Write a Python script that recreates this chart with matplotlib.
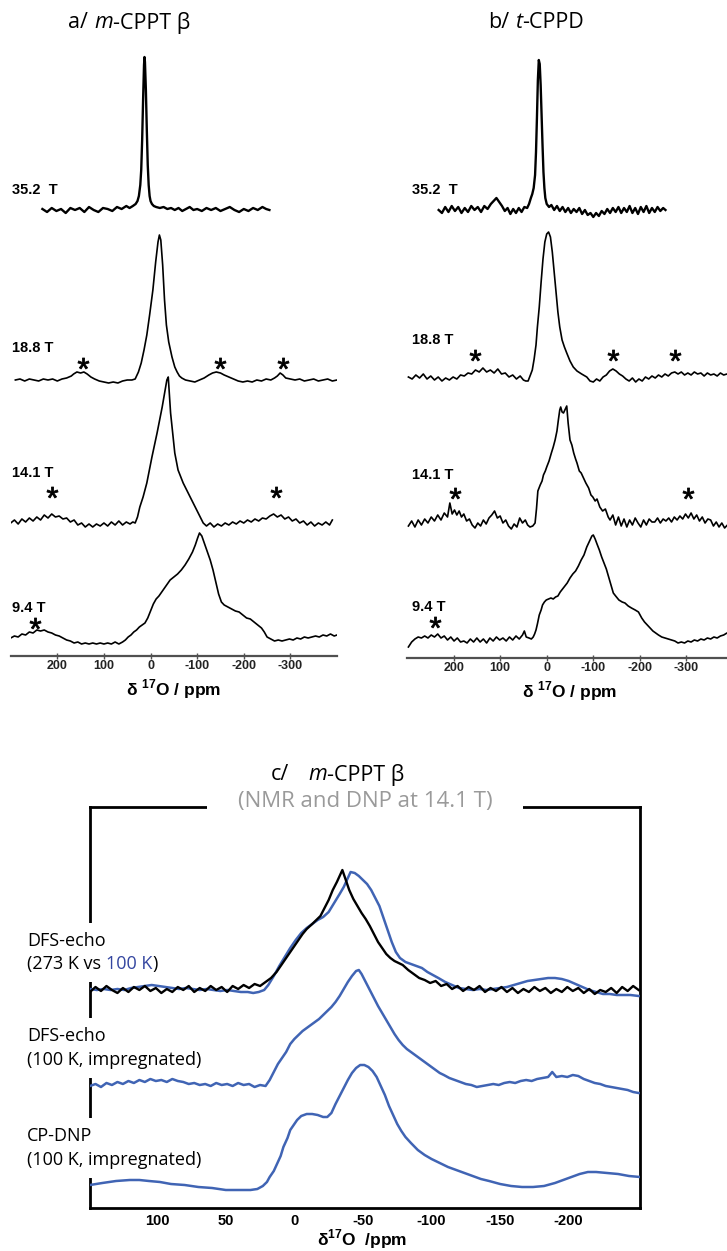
import matplotlib
matplotlib.use("Agg")
import matplotlib.pyplot as plt

# ---------------- data ----------------
# ppm positions and heights above each trace's baseline (picture units)

# a/ m-CPPT beta
a35_ppm = [232, 222, 212, 202, 192, 182, 172, 162, 152, 142, 132, 122, 112, 102, 92, 82, 72, 62, 52, 45,
           38, 32, 28, 25, 22, 20, 18, 16, 14, 13, 12, 10, 8, 6, 4, 2, 0, -3, -7, -12,
           -20, -28, -36, -44, -52, -60, -68, -76, -84, -92, -100, -110, -120, -130, -140, -150, -160, -170, -180, -190,
           -200, -210, -220, -230, -240, -248, -255]
a35_int = [1, -2, 2, -1, 1, -3, 2, 0, 2, -2, 3, 0, -2, 2, 1, -1, 3, 1, 4, 2,
           4, 6, 9, 14, 25, 40, 70, 110, 145, 153, 148, 120, 80, 45, 25, 14, 9, 6, 4, 3,
           2, 3, 1, 2, 0, 2, -1, 1, 3, 0, 1, -1, 2, 0, 2, -1, 1, 3, 0, -2,
           1, -1, 2, 0, 3, 1, 0]

a19_ppm = [290, 280, 270, 260, 250, 240, 230, 220, 210, 200, 190, 180, 170, 165, 158, 150, 143, 136, 128, 120,
           110, 100, 90, 80, 70, 60, 50, 40, 33, 26, 20, 14, 8, 2, -5, -11, -16, -19, -22, -26,
           -30, -34, -39, -46, -52, -57, -62, -67, -75, -85, -95, -105, -115, -125, -133, -141, -150, -158, -168, -178,
           -188, -198, -208, -218, -228, -238, -248, -258, -266, -272, -278, -284, -290, -300, -310, -320, -330, -340,
           -350, -360, -370, -380, -390, -400]
a19_int = [0, 1, -1, 1, 0, -1, 1, 0, 1, -1, 1, 2, 4, 6, 8, 7, 8, 6, 3, 1,
           -1, -2, -3, -2, -3, -1, 0, 0, 1, 8, 17, 30, 45, 65, 90, 118, 138, 145, 140, 115,
           80, 55, 38, 23, 13, 8, 4, 2, 0, -1, -2, 0, 2, 5, 7, 8, 7, 5, 3, 1,
           -1, -2, -1, -2, 0, -1, 1, 0, 2, 4, 7, 5, 2, 1, 0, 1, -1, 0,
           1, -1, 0, 1, -1, 0]

a14_ppm = [300, 292, 284, 276, 268, 260, 252, 244, 236, 228, 220, 212, 204, 196, 188, 180, 172, 164, 156, 148,
           140, 132, 124, 116, 108, 100, 92, 84, 76, 68, 60, 52, 44, 38, 33, 28, 23, 16, 8, -3,
           -14, -25, -35, -38, -43, -52, -59, -70, -85, -99, -113, -120, -128, -136, -144, -152, -160, -168, -176, -184,
           -192, -200, -208, -216, -224, -232, -240, -248, -256, -264, -272, -280, -288, -296, -304, -312, -320, -328,
           -336, -344, -352, -360, -368, -376, -384, -390]
a14_int = [0, 3, -1, 4, 1, 5, 2, 6, 3, 8, 5, 9, 6, 7, 4, 5, 1, 3, -2, 0,
           -4, -1, -4, -1, -3, 0, -3, 1, -2, 2, -2, 1, -1, 1, 0, 6, 16, 26, 40, 66,
           90, 116, 143, 146, 110, 70, 53, 40, 26, 13, 0, -3, 0, -4, -1, -3, 0, -2, 1, -1,
           2, 0, 3, 1, 4, 2, 5, 4, 7, 9, 6, 8, 4, 6, 2, 4, 0, 2,
           -2, 1, -3, 0, -2, 1, -2, 3]

a9_ppm = [300, 292, 284, 276, 268, 260, 252, 244, 236, 228, 220, 212, 204, 196, 188, 180, 172, 164, 156, 148,
          140, 132, 124, 116, 108, 100, 92, 84, 76, 68, 60, 54, 48, 42, 36, 30, 24, 18, 12, 6,
          0, -6, -12, -18, -24, -30, -36, -42, -50, -58, -66, -74, -82, -90, -96, -101, -105, -110, -116, -122,
          -128, -134, -140, -146, -152, -158, -166, -174, -182, -190, -198, -206, -214, -222, -230, -238, -244, -250,
          -258, -266, -274, -282, -290, -298, -306, -314, -322, -330, -338, -346, -354, -362, -370, -378, -386, -394, -400]
a9_int = [2, 4, 3, 6, 5, 8, 7, 10, 9, 10, 8, 7, 5, 4, 2, 0, -1, -3, -2, -4,
          -3, -4, -3, -4, -3, -4, -3, -4, -2, -4, -2, 0, 3, 5, 8, 10, 13, 15, 17, 22,
          29, 36, 41, 44, 48, 52, 56, 60, 63, 66, 70, 75, 81, 88, 95, 102, 107, 104, 96, 88,
          80, 70, 58, 46, 38, 35, 33, 31, 29, 28, 25, 22, 21, 18, 15, 12, 8, 3,
          1, -1, 0, -1, 0, 1, 0, 2, 1, 3, 2, 3, 4, 3, 5, 4, 6, 4, 5]

# b/ t-CPPD
b35_ppm = [232, 225, 218, 211, 204, 197, 190, 183, 176, 169, 162, 155, 148, 141, 134, 127, 120, 114, 108, 102,
           96, 90, 84, 78, 72, 66, 60, 54, 48, 42, 38, 34, 31, 28, 25, 23, 21, 19, 17, 15,
           13, 11, 9, 7, 5, 3, 0, -5, -10, -16, -22, -28, -34, -40, -46, -52, -58, -64, -70, -76,
           -82, -88, -94, -100, -106, -112, -118, -124, -130, -136, -142, -148, -154, -160, -166, -172, -178, -184,
           -190, -196, -202, -208, -214, -220, -226, -232, -238, -244, -250, -255]
b35_int = [0, -3, 3, -2, 4, -1, 3, -3, 2, -2, 4, 0, 3, -2, 4, 1, 6, 9, 12, 8,
           4, -1, 2, -4, 1, -3, 2, -2, 3, 2, 6, 12, 16, 22, 35, 58, 92, 130, 150, 146,
           125, 95, 65, 38, 22, 12, 6, 3, 5, 0, 4, -1, 3, -2, 2, -3, 1, -2, 2, -4,
           0, -5, -3, -7, -3, -6, -1, -4, 1, -3, 2, -2, 3, -3, 2, -2, 4, -3,
           2, -4, 3, -2, 4, -3, 2, -2, 3, -1, 2, 0]

b19_ppm = [297, 289, 281, 273, 265, 257, 249, 241, 233, 225, 217, 209, 201, 193, 185, 177, 169, 161, 153, 145,
           137, 129, 121, 113, 105, 97, 89, 81, 73, 65, 57, 50, 45, 40, 35, 31, 27, 23, 20, 16,
           12, 8, 4, 0, -4, -8, -12, -16, -20, -24, -28, -33, -38, -43, -50, -57, -65, -75, -86, -93,
           -100, -107, -114, -121, -128, -135, -142, -149, -156, -163, -170, -177, -184, -191, -198, -205, -212, -219,
           -226, -233, -240, -247, -254, -261, -268, -275, -282, -289, -296, -303, -310, -317, -324, -331, -338, -345,
           -352, -359, -366, -373, -380, -387, -395, -400]
b19_int = [0, -2, 2, -1, 3, -2, 1, -3, 0, -4, -1, -3, 0, -2, 2, 1, 4, 3, 7, 5,
           9, 5, 7, 4, 8, 3, 4, 0, 2, -2, 1, -3, -4, -4, 2, 7, 18, 32, 50, 70,
           95, 118, 135, 143, 145, 140, 125, 105, 85, 65, 50, 37, 30, 24, 16, 10, 6, 3, 0, -4,
           -5, -2, -4, 0, 2, 6, 8, 6, 3, 1, -2, -4, -1, -5, -2, -4, 0, -2,
           1, -1, 2, 0, 3, 1, 4, 5, 3, 5, 2, 4, 2, 5, 3, 4, 1, 4,
           2, 3, 1, 4, 2, 3, 1, 2]

b14_ppm = [297, 290, 283, 276, 269, 262, 255, 248, 241, 234, 227, 220, 213, 208, 203, 198, 193, 188, 183, 178,
           172, 166, 160, 154, 148, 142, 136, 130, 124, 118, 112, 106, 100, 94, 88, 82, 76, 70, 64, 58,
           52, 46, 41, 36, 30, 25, 22, 19, 14, 10, 7, 3, 0, -5, -10, -14, -18, -22, -25, -28,
           -30, -33, -36, -40, -43, -46, -50, -54, -58, -62, -65, -70, -74, -78, -84, -90, -95, -99, -104, -108,
           -114, -120, -126, -132, -136, -142, -148, -154, -160, -166, -172, -178, -184, -190, -196, -202, -208, -214,
           -220, -226, -232, -238, -244, -250, -256, -262, -268, -274, -280, -286, -292, -298, -304, -310, -316, -322,
           -328, -334, -340, -346, -352, -358, -364, -370, -376, -382, -388, -400]
b14_int = [-3, 2, -4, 3, -2, 4, 0, 6, 2, 8, 3, 10, 6, 20, 9, 13, 8, 12, 6, 9,
           2, 4, -2, -5, 0, -3, 3, -1, 5, 8, 12, 5, 7, 0, 3, -3, -6, -1, -4, 5,
           0, 3, -2, -4, -3, 0, 14, 32, 38, 42, 48, 52, 56, 62, 70, 76, 83, 92, 103, 113,
           116, 111, 110, 114, 117, 100, 83, 78, 70, 64, 60, 52, 50, 46, 40, 35, 28, 26, 22, 24,
           16, 12, 14, 6, 3, 8, -2, 6, -3, 4, -4, 3, -2, 5, 0, -4, 3, -2,
           4, 1, 1, 5, 0, 4, 2, 5, 1, 6, 3, 7, 4, 9, 5, 10, 4, 8,
           2, 6, 0, 4, 3, -3, 1, -4, 0, -5, -2, -4]

b9_ppm = [297, 290, 283, 276, 269, 262, 255, 248, 241, 234, 227, 220, 213, 206, 199, 192, 185, 178, 171, 164,
          157, 150, 143, 136, 129, 122, 115, 108, 101, 94, 87, 80, 73, 66, 59, 52, 48, 44, 38, 33,
          29, 26, 23, 20, 16, 12, 9, 5, 1, -4, -9, -14, -19, -24, -29, -34, -39, -44, -50, -56,
          -62, -68, -74, -80, -86, -92, -97, -100, -104, -108, -113, -118, -123, -128, -133, -138, -143, -148, -155, -162,
          -168, -175, -182, -190, -197, -204, -210, -216, -222, -228, -234, -240, -247, -254, -261, -268, -275, -282,
          -289, -296, -303, -310, -317, -324, -331, -338, -345, -352, -359, -366, -373, -380, -387, -400]
b9_int = [-7, -2, 1, 3, 2, 4, 2, 5, 3, 6, 2, 4, 0, 3, -1, 2, -2, -1, -3, 1,
          -2, 2, -2, 1, -3, 2, -1, 3, 0, 2, -1, 3, 0, 4, 1, 5, 9, 3, 2, 1,
          3, 6, 10, 16, 25, 30, 35, 38, 40, 41, 42, 41, 43, 44, 48, 51, 54, 57, 62, 66,
          69, 74, 80, 85, 93, 99, 104, 105, 101, 96, 90, 83, 77, 71, 63, 55, 47, 44, 40, 38,
          37, 34, 32, 30, 28, 22, 18, 15, 12, 9, 7, 5, 3, 2, 1, 0, -1, -3,
          -2, -3, -1, -2, 0, -1, 1, 0, 2, 1, 3, 2, 4, 5, 7, 6]

# spinning sidebands (ppm)
a19_stars = [145, -149, -284]
a14_stars = [211, -269]
a9_stars = [248]
b19_stars = [154, -142, -275]
b14_stars = [197, -303]
b9_stars = [240]

ab_ticks = [200, 100, 0, -100, -200, -300]

# c/ m-CPPT beta at 14.1 T
c1_ppm_k = [149, 145, 141, 137, 133, 129, 125, 121, 117, 113, 109, 105, 101, 97, 93, 89, 85, 81, 77, 73,
            69, 65, 61, 57, 53, 49, 45, 41, 37, 33, 29, 25, 21, 17, 13, 10, 6, 2, -2, -6,
            -9, -13, -16, -19, -22, -25, -28, -31, -33, -35, -37, -40, -43, -46, -49, -52, -55, -58, -61, -64,
            -67, -70, -73, -76, -79, -83, -87, -91, -95, -99, -103, -107, -111, -115, -119, -123, -127, -131, -135, -139,
            -143, -147, -151, -155, -159, -163, -167, -171, -175, -179, -183, -187, -191, -195, -199, -203, -207, -211,
            -215, -219, -223, -227, -231, -235, -239, -243, -247, -251]
c1_black = [-2, 3, -1, 4, 0, -3, 2, -2, 3, 0, 4, -1, 2, -3, 1, -2, 3, 0, 4, -2,
            2, -1, 4, 0, 3, -2, 4, 1, 5, 2, 6, 4, 8, 12, 18, 24, 32, 40, 48, 56,
            61, 66, 70, 74, 82, 90, 100, 108, 114, 120, 112, 100, 91, 84, 77, 71, 64, 56, 48, 42,
            36, 32, 29, 27, 25, 20, 16, 12, 10, 7, 9, 4, 6, 1, 4, -1, 3, 0, 4, -2,
            2, -1, 3, -2, 2, -3, 1, -2, 3, -1, 2, -3, 1, -2, 3, -1, 2, -3,
            1, -4, 0, -2, 2, -3, 3, -1, 4, 0]

c1_ppm_b = [149, 144, 139, 134, 129, 124, 119, 114, 109, 104, 99, 94, 89, 84, 79, 74, 69, 64, 59, 54,
            49, 44, 39, 34, 30, 26, 22, 19, 15, 11, 7, 3, -1, -5, -9, -13, -17, -21, -25, -29,
            -33, -36, -39, -41, -44, -47, -50, -53, -56, -59, -62, -65, -68, -71, -74, -77, -81, -85, -89, -93,
            -97, -101, -105, -110, -115, -120, -125, -130, -135, -140, -145, -150, -155, -160, -165, -170, -175, -180,
            -185, -190, -195, -200, -205, -210, -215, -220, -225, -230, -235, -240, -245, -251]
c1_blue = [1, 0, 1, 0, 1, 0, 2, 3, 4, 5, 4, 3, 2, 1, 2, 1, 0, 1, 0, -1,
           0, -1, -2, -2, -3, -2, 0, 5, 14, 24, 33, 42, 50, 57, 62, 66, 70, 73, 78, 87,
           96, 103, 112, 118, 117, 114, 110, 106, 100, 92, 84, 72, 60, 48, 38, 32, 28, 26, 24, 22,
           18, 15, 12, 8, 5, 2, 1, 0, 1, 0, 1, 2, 3, 5, 7, 9, 10, 11,
           12, 12, 11, 9, 6, 3, 0, -2, -4, -4, -5, -5, -5, -6]

c2_ppm = [149, 145, 141, 137, 133, 129, 125, 121, 117, 113, 109, 105, 101, 97, 93, 89, 85, 81, 77, 73,
          69, 65, 61, 57, 53, 49, 45, 41, 37, 33, 29, 25, 21, 18, 15, 12, 9, 6, 3, 0,
          -3, -6, -9, -12, -15, -18, -21, -24, -27, -30, -33, -36, -39, -42, -45, -47, -49, -52, -55, -58,
          -61, -64, -67, -70, -73, -76, -79, -82, -85, -88, -91, -94, -97, -100, -103, -106, -109, -113, -117, -121,
          -125, -129, -133, -137, -141, -145, -149, -153, -157, -161, -165, -169, -173, -177, -181, -185, -188, -191,
          -195, -199, -203, -207, -211, -215, -219, -223, -227, -231, -235, -239, -243, -247, -251]
c2_blue = [0, 2, -1, 3, 1, 4, 2, 5, 3, 6, 4, 7, 5, 6, 4, 7, 5, 4, 2, 3,
           1, 2, 0, 3, 1, 2, 0, 3, 1, 2, -1, 1, 0, 6, 14, 22, 28, 34, 42, 47,
           51, 55, 58, 61, 64, 67, 71, 75, 79, 84, 90, 97, 104, 110, 115, 116, 112, 104, 96, 88,
           80, 73, 66, 59, 52, 46, 41, 37, 34, 31, 28, 25, 22, 19, 16, 13, 11, 8, 6, 4,
           2, 1, -1, 0, 1, 2, 1, 3, 4, 3, 5, 6, 5, 7, 8, 9, 14, 9,
           10, 9, 11, 10, 7, 5, 3, 2, 0, -1, -2, -3, -4, -6, -7]

c3_ppm = [149, 140, 130, 120, 113, 106, 98, 90, 80, 70, 60, 50, 40, 32, 27, 23, 20, 18, 15, 13,
          10, 8, 5, 3, 0, -2, -5, -9, -13, -17, -21, -24, -27, -30, -33, -36, -39, -42, -45, -48,
          -51, -54, -57, -60, -63, -66, -69, -72, -75, -78, -81, -85, -90, -95, -100, -106, -112, -118, -124, -130,
          -136, -142, -150, -158, -166, -174, -182, -190, -196, -202, -208, -214, -220, -228, -236, -244, -252]
c3_blue = [3, 5, 7, 8, 8, 7, 6, 4, 3, 1, 0, -2, -2, -2, -1, 2, 6, 11, 17, 23,
           32, 41, 50, 58, 64, 68, 72, 74, 74, 73, 71, 71, 75, 84, 92, 100, 108, 115, 120, 123,
           123, 121, 117, 111, 102, 93, 82, 73, 64, 57, 51, 45, 38, 33, 29, 25, 21, 18, 15, 12,
           9, 7, 4, 2, 1, 1, 2, 5, 8, 11, 14, 16, 16, 15, 14, 12, 11]

c_ticks = [100, 50, 0, -50, -100, -150, -200]

# ---------------- layout / style ----------------
W, H = 727, 1251
plt.rcParams['mathtext.fontset'] = 'custom'
plt.rcParams['mathtext.rm'] = 'Liberation Sans'
plt.rcParams['mathtext.bf'] = 'Liberation Sans:bold'

TICKF = ['Liberation Sans', 'DejaVu Sans']
TXTF = ['Open Sans', 'DejaVu Sans']
BLUE = '#4064b4'
BLUE_TXT = '#3446a0'

fig = plt.figure(figsize=(W / 100, H / 100), dpi=100)


def px_axes(x0, y0, x1, y1):
    return fig.add_axes([x0 / W, 1 - y1 / H, (x1 - x0) / W, (y1 - y0) / H])


def nmr_panel(x0, x1, axis_y, traces, label_x):
    ax = px_axes(x0, 30, x1, axis_y)
    ax.set_xlim(300, -400)
    ax.set_ylim(axis_y, 30)
    for sp in ['top', 'left', 'right']:
        ax.spines[sp].set_visible(False)
    ax.spines['bottom'].set_color('#505050')
    ax.spines['bottom'].set_linewidth(1.6)
    ax.set_yticks([])
    ax.set_xticks(ab_ticks)
    ax.set_xticklabels([str(v) for v in ab_ticks], fontfamily=TICKF,
                       fontweight='bold', fontsize=9, color='#222222')
    ax.tick_params(axis='x', direction='inout', length=4, width=1, color='#505050', pad=1)
    for ppm, inten, base, lw, stars, star_y, label, label_y in traces:
        ax.plot(ppm, [base - v for v in inten], color='black', lw=lw)
        if stars:
            ax.plot(stars, [star_y] * len(stars), ls='none', marker='$*$', ms=8,
                    mew=0.6, color='black')
        fig.text(label_x / W, 1 - label_y / H, label, fontfamily=TICKF, fontweight='bold',
                 fontsize=10.5, ha='left', va='center')
    fig.text((x0 + min(x1, 733)) / 2 / W, 1 - (axis_y + 33) / H, r'δ $^{\mathbf{17}}$O / ppm',
             fontfamily=TICKF, fontweight='bold', fontsize=12.5, ha='center', va='center')
    return ax


nmr_panel(10.7, 337, 656, [
    (a35_ppm, a35_int, 210, 1.7, [], 0, '35.2  T', 190),
    (a19_ppm, a19_int, 380, 1.2, a19_stars, 363, '18.8 T', 348),
    (a14_ppm, a14_int, 523, 1.2, a14_stars, 492, '14.1 T', 473),
    (a9_ppm, a9_int, 640, 1.2, a9_stars, 623, '9.4 T', 608),
], 12)

nmr_panel(407, 733, 658, [
    (b35_ppm, b35_int, 210, 1.7, [], 0, '35.2  T', 190),
    (b19_ppm, b19_int, 377, 1.2, b19_stars, 355, '18.8 T', 340),
    (b14_ppm, b14_int, 523, 1.2, b14_stars, 493, '14.1 T', 475),
    (b9_ppm, b9_int, 640, 1.2, b9_stars, 622, '9.4 T', 607),
], 412)

# panel c
axc = px_axes(90, 807, 640, 1208)
axc.set_xlim(149, -252)
axc.set_ylim(1208, 807)
for sp in axc.spines.values():
    sp.set_linewidth(2)
    sp.set_color('black')
axc.set_yticks([])
axc.set_xticks(c_ticks)
axc.set_xticklabels([str(v) for v in c_ticks], fontfamily=TICKF, fontweight='bold', fontsize=10.5)
axc.tick_params(axis='x', length=0, pad=4)

axc.plot(c1_ppm_b, [990 - v for v in c1_blue], color=BLUE, lw=1.8, zorder=3)
axc.plot(c1_ppm_k, [990 - v for v in c1_black], color='black', lw=1.7, zorder=3.1)
axc.plot(c2_ppm, [1086 - v for v in c2_blue], color=BLUE, lw=1.8, zorder=3)
axc.plot(c3_ppm, [1188 - v for v in c3_blue], color=BLUE, lw=1.8, zorder=3)


def ctext(x, y, s, **kw):
    return axc.text(x / W, 1 - y / H, s, transform=fig.transFigure, clip_on=False, **kw)


def chain(prev, s, gap, **kw):
    return axc.annotate(s, xy=(1, 0), xycoords=prev, xytext=(gap, 0), textcoords='offset points',
                        ha='left', va='bottom', **kw)


white = dict(boxstyle='square,pad=0.5', fc='white', ec='none')
lab = dict(fontfamily=TXTF, fontsize=13, ha='left', va='center', zorder=2.7, bbox=white)
ctext(27, 941, 'DFS-echo', **lab)
t = ctext(27, 964, '(273 K vs', **lab)
t = chain(t, '100 K', 3.4, fontfamily=TXTF, fontsize=13, color=BLUE_TXT, zorder=2.8)
chain(t, ')', 0, fontfamily=TXTF, fontsize=13, zorder=2.8)
ctext(27, 1036, 'DFS-echo', **lab)
ctext(27, 1060, '(100 K, impregnated)', **lab)
ctext(27, 1136, 'CP-DNP', **lab)
ctext(27, 1160, '(100 K, impregnated)', **lab)

ctext(365, 802, '(NMR and DNP at 14.1 T)', fontfamily=TXTF, fontsize=16, color='#9a9a9a',
      ha='center', va='center', zorder=2.7,
      bbox=dict(boxstyle='square,pad=1.4', fc='white', ec='none'))
ctext(362, 1239, r'δ$^{\mathbf{17}}$O  /ppm', fontfamily=TICKF, fontweight='bold', fontsize=12.5,
      ha='center', va='center')

# titles
tt = dict(fontfamily=TXTF, fontsize=15.5, zorder=4)
t = ctext(68, 23, 'a/', ha='left', va='center', **tt)
t = chain(t, 'm', 4.5, style='italic', **tt)
chain(t, '-CPPT β', 0, **tt)
t = ctext(488, 23, 'b/', ha='left', va='center', **tt)
t = chain(t, 't', 4.5, style='italic', **tt)
chain(t, '-CPPD', 0, **tt)
t = ctext(271, 775, 'c/', ha='left', va='center', **tt)
t = chain(t, 'm', 14, style='italic', **tt)
chain(t, '-CPPT β', 0, **tt)

fig.savefig('out.png', dpi=100)
